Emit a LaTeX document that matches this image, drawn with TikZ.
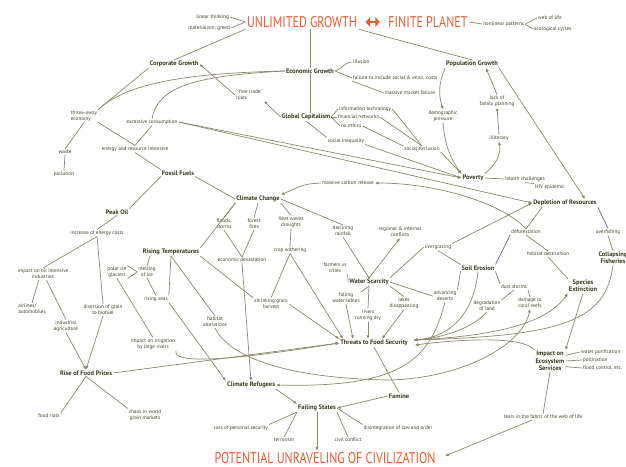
\documentclass[tikz,border=0pt]{standalone}
\usepackage{fontspec}
\newfontfamily\mapfont{PT Sans}
\newfontfamily\titlefont[FakeStretch=0.78]{PT Sans}
\usetikzlibrary{arrows.meta}
\definecolor{ink}{RGB}{68,66,38}
\definecolor{wire}{RGB}{140,137,106}
\definecolor{slate}{RGB}{96,104,140}
\definecolor{org}{RGB}{232,92,48}

\begin{document}
\begin{tikzpicture}[x=0.25mm,y=-0.25mm,
  lbl/.style={font=\mapfont\fontsize{3.7}{4.3}\selectfont,text=ink,inner sep=0.6pt,align=center},
  hub/.style={lbl,font=\mapfont\bfseries\fontsize{4.6}{5.3}\selectfont,text=ink!85!black},
  big/.style={font=\titlefont\fontsize{11}{12}\selectfont,text=org,inner sep=1pt},
  link/.style={draw=wire,line width=0.5pt},
  bluelink/.style={draw=slate,line width=0.5pt},
  arr/.style={link,-{Latex[length=0.9mm,width=0.8mm]}},
  twoway/.style={draw=org,line width=1.6pt,{Triangle[length=1.1mm,width=2.4mm]}-{Triangle[length=1.1mm,width=2.4mm]},shorten <=5,shorten >=5},
]
\useasboundingbox[fill=white] (0,0) rectangle (626,466);

% top line
\node[big] (ug) at (302,22) {UNLIMITED GROWTH};
\node[big] (fp) at (428,22) {FINITE PLANET};
\node[lbl,anchor=east] (lin) at (230,17) {linear thinking};
\node[lbl,anchor=east] (mat) at (231,28) {materialism; greed};
\node[lbl,anchor=west] (nlp) at (482,24) {nonlinear patterns};
\node[lbl,anchor=west] (web) at (537,18) {web of life};
\node[lbl,anchor=west] (ecc) at (533,29) {ecological cycles};

% growth and capitalism
\node[hub] (corp) at (174,64) {Corporate Growth};
\node[hub] (econ) at (310,71) {Economic Growth};
\node[hub] (pop) at (472,64) {Population Growth};
\node[lbl,anchor=west] (ill) at (352,62) {illusion};
\node[lbl,anchor=west] (fail) at (352,78) {failure to include social \& envir. costs};
\node[lbl] (mmf) at (410,93) {massive market failure};
\node[lbl,align=left,anchor=west] (ftr) at (235,95) {``free trade''\\rules};
\node[hub] (glob) at (306,117) {Global Capitalism};
\node[lbl,anchor=west] (it) at (338,109) {information technology};
\node[lbl,anchor=west] (fin) at (337,117) {financial networks};
\node[lbl,anchor=west] (noe) at (340,126) {no ethics};
\node[lbl] (sinq) at (346,141) {social inequality};
\node[lbl] (sexc) at (422,149) {social exclusion};
\node[lbl] (dem) at (443,116) {demographic\\pressure};
\node[lbl] (lack) at (497,101) {lack of\\family planning};
\node[lbl] (illit) at (499,138) {illiteracy};
\node[hub] (pov) at (473,178) {Poverty};
\node[lbl] (hea) at (525,179) {health challenges};
\node[lbl] (hiv) at (550,187) {HIV epidemic};

% consumption and fossil fuels
\node[lbl,align=left] (thr) at (84,116) {throw-away\\economy};
\node[lbl] (exc) at (152,122) {excessive consumption};
\node[lbl] (was) at (65,152) {waste};
\node[lbl] (pol) at (64,174) {pollution};
\node[lbl] (eri) at (135,149) {energy and resource intensive};
\node[hub] (ff) at (178,173) {Fossil Fuels};
\node[hub] (po) at (117,212) {Peak Oil};
\node[lbl] (iec) at (97,233) {increase of energy costs};
\node[lbl] (ioi) at (43,274) {impact on oil intensive\\industries};
\node[lbl,align=left] (air) at (32,309) {airlines/\\automobiles};
\node[lbl] (ind) at (66,326) {industrial\\agriculture};
\node[lbl] (div) at (103,310) {diversion of grain\\to biofuel};
\node[hub] (rfp) at (86,373) {Rise of Food Prices};
\node[lbl] (riot) at (49,416) {food riots};
\node[lbl] (chaos) at (145,415) {chaos in world\\grain markets};

% climate
\node[hub] (cc) at (258,199) {Climate Change};
\node[lbl] (mcr) at (348,183) {massive carbon release};
\node[lbl] (fl) at (224,224) {floods,\\storms};
\node[lbl] (fire) at (254,224) {forest\\fires};
\node[lbl] (heat) at (291,222) {heat waves\\droughts};
\node[lbl] (dr) at (343,231) {declining\\rainfall};
\node[lbl] (ed) at (242,260) {economic devastation};
\node[lbl] (cw) at (290,250) {crop withering};
\node[hub] (rt) at (171,252) {Rising Temperatures};
\node[lbl] (pig) at (117,272) {polar ice\\glaciers};
\node[lbl] (mel) at (147,272) {melting\\of ice};
\node[lbl] (rs) at (156,299) {rising seas};
\node[lbl] (ha) at (215,322) {habitat\\alterations};
\node[lbl] (irr) at (153,344) {impact on irrigation\\by large rivers};
\node[lbl] (sgh) at (271,304) {shrinking grain\\harvest};

% water and soil
\node[hub] (ws) at (369,282) {Water Scarcity};
\node[lbl] (fvc) at (335,268) {farmers vs\\cities};
\node[lbl] (fwt) at (346,298) {falling\\water tables};
\node[lbl] (rrd) at (368,315) {rivers\\running dry};
\node[lbl] (ld) at (404,303) {lakes\\disappearing};
\node[lbl] (ric) at (400,232) {regional \& internal\\conflicts};
\node[lbl] (ovg) at (438,247) {overgrazing};
\node[hub] (se) at (478,268) {Soil Erosion};
\node[lbl] (ad) at (445,296) {advancing\\deserts};
\node[lbl] (ds) at (514,287) {dust storms};
\node[lbl] (dl) at (487,306) {degradation\\of land};
\node[lbl] (dcr) at (530,303) {damage to\\coral reefs};

% resources
\node[hub] (dep) at (565,203) {Depletion of Resources};
\node[lbl] (def) at (526,232) {deforestation};
\node[lbl] (ovf) at (608,232) {overfishing};
\node[lbl] (hd) at (548,254) {habitat destruction};
\node[hub] (cf) at (613,258) {Collapsing\\Fisheries};
\node[hub] (sp) at (583,286) {Species\\Extinction};

% consequences
\node[hub] (tfs) at (374,343) {Threats to Food Security};
\node[hub] (ies) at (550,361) {Impact on\\Ecosystem\\Services};
\node[lbl,anchor=west] (wp) at (580,352) {water purification};
\node[lbl,anchor=west] (pln) at (582,360) {pollination};
\node[lbl,anchor=west] (fc) at (582,368) {flood control, etc.};
\node[lbl] (tear) at (543,417) {tears in the fabric of the web of life};
\node[hub] (cr) at (251,385) {Climate Refugees};
\node[hub] (fam) at (399,396) {Famine};
\node[hub] (fs) at (317,408) {Failing States};
\node[lbl] (lps) at (241,428) {loss of personal security};
\node[lbl] (ter) at (284,440) {terrorism};
\node[lbl] (civ) at (348,440) {civil conflict};
\node[lbl] (dlo) at (398,428) {disintegration of law and order};
\node[big] (puc) at (325,458) {POTENTIAL UNRAVELING OF CIVILIZATION};

% connectors, top
\draw[twoway] (ug) -- (fp);
\draw[link] (lin.east) -- (ug.west);
\draw[link] (mat.east) -- (ug.west);
\draw[link] (fp.east) -- (nlp.west);
\draw[link] (nlp.east) -- (web.west);
\draw[link] (nlp.east) -- (ecc.west);
\draw[link] (ug.south west) -- (corp.north);
\draw[link] (ug.south -| econ.north) -- (econ.north);
\draw[link] (econ.south) -- (econ.south |- glob.north);
\draw[link] (ug.south east) -- (pop.north);
\draw[link] (econ.east) to[out=15,in=180] (ill.west);
\draw[link] (econ.east) -- (fail.west);
\draw[link] (fail.south west) -- (mmf.west);
\draw[arr] (glob.west) -- (ftr.south east);
\draw[arr] (ftr.west) -- (corp.east);
\draw[link] (glob.east) -- (it.west);
\draw[link] (glob.east) -- (fin.west);
\draw[link] (glob.east) -- (noe.west);
\draw[link] (glob.south) -- (sinq.north west);
\draw[link] (it.east) -- (sexc.north);
\draw[link] (fin.east) -- (sexc.north);
\draw[link] (noe.east) -- (sexc.north west);
\draw[arr] (sexc.south east) -- (pov.north west);
\draw[arr] (sinq.south east) -- (pov.west);
\draw[arr] (pop.south west) to[bend right=20] (dem.north);
\draw[arr] (dem.south) to[bend right=15] (pov.north west);
\draw[arr] (lack.north) -- ([shift={(14,0)}]pop.south);
\draw[arr] (illit.north) -- (lack.south);
\draw[arr] (pov.north east) to[out=40,in=-80] (illit.south);
\draw[link] (pov.east) -- (hea.west);
\draw[link] (hea.south) -- (hiv.north west);
\draw[arr] (pop.south east) -- ([shift={(20,0)}]dep.north);

% connectors, left
\draw[link] (corp.south west) -- (thr.north east);
\draw[link] (econ.west) .. controls (200,73) and (130,80) .. (thr.north east);
\draw[link] (exc.north) .. controls (158,88) and (190,76) .. (econ.west);
\draw[link] (thr.south) -- (was.north);
\draw[link] (was.south) -- (pol.north);
\draw[link] (thr.south east) -- (eri.north);
\draw[link] (exc.south) -- (eri.north);
\draw[link] (eri.south) -- (ff.north west);
\draw[arr] (exc.east) -- (pov.west);
\draw[arr] (exc.east) -- (dep.west);
\draw[link] (ff.south west) -- (po.north east);
\draw[link] (po.south) -- (iec.north);
\draw[link] (iec.south) -- (ioi.north);
\draw[link] (iec.south) -- (div.north);
\draw[link] (ioi.235) -- (air.north);
\draw[link] (ioi.300) -- (ind.north);
\draw[arr] (ind.south) -- (rfp.north);
\draw[arr] (div.south) -- (rfp.north);
\draw[link] (rfp.south) -- (riot.north east);
\draw[link] (rfp.south) -- (chaos.north west);
\draw[arr] (rfp.east) -- (tfs.west);
\draw[arr] (irr.south east) .. controls (172,362) and (210,364) .. (tfs.west);

% connectors, climate
\draw[link] (ff.south east) -- (cc.west);
\draw[arr] (mcr.west) .. controls (305,184) .. (cc.north east);
\draw[arr] (def.north) .. controls (505,205) and (440,183) .. (mcr.east);
\draw[link] (cc.south west) -- (rt.north east);
\draw[link] (cc.south west) -- (fl.north);
\draw[link] (cc.south) -- (fire.north);
\draw[link] (cc.south east) -- (heat.north);
\draw[link] (cc.east) -- (dr.north);
\draw[link] (fl.south) -- (ed.north);
\draw[link] (fire.south) -- (ed.north);
\draw[arr] (ed.south) -- (cr.north);
\draw[link] (heat.south) -- (cw.north);
\draw[link] (cw.south) -- (sgh.north);
\draw[link] (rt.south east) -- (sgh.north west);
\draw[arr] (sgh.east) -- (tfs.north west);
\draw[arr] (cw.south) -- ([shift={(-31,0)}]tfs.north);
\draw[link] ([shift={(-21,0)}]rt.south) -- (mel.north);
\draw[link] (pig.north east) -- (mel.west);
\draw[link] (pig.south east) -- (mel.west);
\draw[link] (mel.south) -- (rs.north);
\draw[link] (rt.south) -- (rs.north east);
\draw[link] (rt.south) -- (ha.north);
\draw[link] (pig.south) -- (irr.north);
\draw[arr] (rs.south east) -- (cr.north west);
\draw[arr] (ha.south) .. controls (232,362) and (300,378) .. (385,380)
  .. controls (455,380) and (522,348) .. (dcr.south);

% connectors, water and soil
\draw[link] (dr.south) -- (ws.north);
\draw[link] (fvc.south east) -- (ws.west);
\draw[link] (ws.south) -- (fwt.north east);
\draw[link] (ws.south) -- (rrd.north);
\draw[link] (ws.south east) -- (ld.north);
\draw[link] (ws.east) -- (ad.west);
\draw[arr] (ws.north) -- (ric.south);
\draw[link] (ws.north east) -- (ovg.west);
\draw[arr] (fwt.south) -- ([shift={(-21,0)}]tfs.north);
\draw[arr] (rrd.south) -- ([shift={(-6,0)}]tfs.north);
\draw[arr] (ld.south) -- ([shift={(8,0)}]tfs.north);
\draw[arr] (ovg.north east) -- (dep.west);
\draw[link] (ovg.south) -- (se.north west);
\draw[link] ([shift={(-23,0)}]dep.south) -- (def.north);
\draw[bluelink] (dep.south east) -- (ovf.north);
\draw[link] (ovf.south) -- (cf.north);
\draw[link] (def.south) -- (hd.north);
\draw[bluelink] (def.south west) -- (se.north east);
\draw[link] (hd.south) -- (sp.north west);
\draw[link] (se.south west) -- (ad.north east);
\draw[link] (se.south east) -- (ds.north west);
\draw[link] (ds.south) -- (dl.north east);
\draw[link] (ds.south east) -- (dcr.north);
\draw[arr] (se.south) .. controls (474,312) and (452,337) .. ([shift={(5,-3)}]tfs.east);
\draw[arr] (dl.south) .. controls (470,330) and (440,338) .. ([shift={(5,-3)}]tfs.east);
\draw[arr] (cf.south) .. controls (606,322) and (560,336) .. ([shift={(5,-3)}]tfs.east);
\draw[arr] ([shift={(5,-3)}]tfs.east) .. controls (500,336) and (548,322) .. (sp.south west);
\draw[arr] (ies.north west) .. controls (525,337) and (470,338) .. ([shift={(6,2)}]tfs.east);
\draw[arr] (ad.south) .. controls (430,360) and (402,388) .. (cr.east);
\draw[arr] (sp.south) -- (ies.north east);

% connectors, bottom
\draw[link] (ies.20) -- (wp.west);
\draw[link] (ies.east) -- (pln.west);
\draw[link] (ies.-20) -- (fc.west);
\draw[link] (ies.south) -- (tear.north);
\draw[arr] ([shift={(-11,0)}]tear.south) -- ([shift={(8,-2)}]puc.east);
\draw[link] (tfs.south) -- (fam.north);
\draw[arr] (fam.west) -- (fs.east);
\draw[arr] (cr.south east) -- (fs.north west);
\draw[link] (fs.south west) -- (lps.north east);
\draw[link] (fs.south west) -- (ter.north);
\draw[link] (fs.south east) -- (civ.north);
\draw[link] (fs.east) -- (dlo.north west);
\draw[arr] (fs.south) -- (fs.south |- puc.north);
\end{tikzpicture}
\end{document}
